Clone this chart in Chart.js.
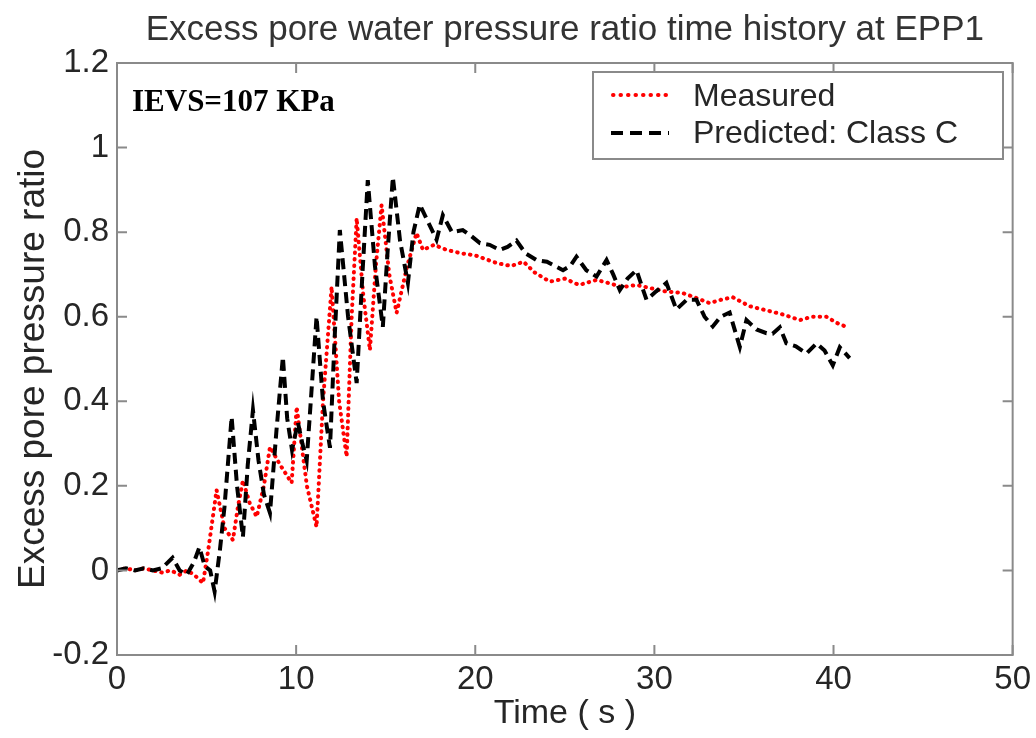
<!DOCTYPE html>
<html>
<head>
<meta charset="utf-8">
<title>EPP1 excess pore pressure ratio</title>
<script src="https://cdn.jsdelivr.net/npm/chart.js@4.4.1/dist/chart.umd.min.js"></script>
<style>
  html, body { margin: 0; padding: 0; background: #fff; }
  #wrap { width: 1036px; height: 738px; position: relative; }
</style>
</head>
<body>
<div id="wrap"><canvas id="chart"></canvas></div>
<script>
// time (s) and pore pressure ratio
const predT = [0, 0.5, 1, 1.5, 2, 2.5, 3.1, 3.5, 3.9, 4.3, 4.6, 4.9, 5.2, 5.45, 5.75, 6.0, 6.4, 6.7,
  7.03, 7.3, 7.59, 7.9, 8.2, 8.54, 8.9, 9.26, 9.5, 9.77, 10.1, 10.35, 10.59, 10.85, 11.14, 11.5,
  11.89, 12.15, 12.44, 12.9, 13.38, 13.7, 14.0, 14.4, 14.84, 15.1, 15.4, 15.8, 16.24, 16.55, 16.9,
  17.3, 17.84, 18.19, 18.7, 19.3, 19.8, 20.26, 20.8, 21.37, 21.8, 22.3, 22.8, 23.42, 24.0, 24.9,
  25.3, 25.65, 26.2, 26.77, 27.33, 27.7, 28.07, 28.5, 29.0, 29.56, 30.1, 30.67, 31.23, 31.8, 32.35,
  32.8, 33.26, 33.7, 34.2, 34.77, 35.14, 35.7, 36.26, 36.6, 37.0, 37.37, 37.9, 38.49, 39.05, 39.5,
  39.96, 40.35, 40.9];
const predV = [0.0, 0.005, 0.0, 0.005, 0.0, 0.005, 0.03, 0.0, -0.01, 0.02, 0.055, 0.01, 0.0, -0.05,
  0.05, 0.15, 0.363, 0.2, 0.079, 0.25, 0.379, 0.26, 0.18, 0.136, 0.33, 0.505, 0.36, 0.285, 0.35, 0.3,
  0.26, 0.42, 0.60, 0.4, 0.29, 0.55, 0.805, 0.6, 0.443, 0.7, 0.923, 0.72, 0.576, 0.75, 0.93, 0.78,
  0.68, 0.8, 0.865, 0.83, 0.782, 0.84, 0.8, 0.805, 0.79, 0.774, 0.77, 0.758, 0.765, 0.78, 0.75,
  0.734, 0.73, 0.71, 0.72, 0.742, 0.71, 0.695, 0.734, 0.7, 0.663, 0.69, 0.71, 0.64, 0.66, 0.68,
  0.617, 0.64, 0.64, 0.6, 0.577, 0.6, 0.61, 0.528, 0.592, 0.57, 0.561, 0.56, 0.575, 0.537, 0.53,
  0.513, 0.537, 0.52, 0.485, 0.528, 0.502];

const measT = [0, 0.5, 1, 1.5, 2, 2.5, 3, 3.5, 3.9, 4.3, 4.8, 5.1, 5.56, 6.0, 6.47, 6.75, 7.03, 7.4,
  7.8, 8.2, 8.54, 9.1, 9.75, 10.03, 10.6, 11.14, 11.5, 11.98, 12.4, 12.82, 13.1, 13.38, 13.75, 14.12,
  14.45, 14.77, 15.2, 15.61, 16.2, 16.72, 17.08, 17.7, 18.4, 19.2, 20.0, 21.19, 22.0, 22.7, 23.3,
  24.16, 25.0, 25.8, 26.77, 27.4, 28.2, 29.0, 29.74, 30.6, 31.58, 32.3, 33.09, 33.7, 34.38, 35.3,
  36.26, 37.2, 38.12, 38.8, 39.6, 40.2, 40.72];
const measV = [0, 0.005, 0, 0.005, 0.0, -0.005, 0.0, -0.01, 0.0, -0.01, -0.03, 0.05, 0.19, 0.1, 0.072,
  0.15, 0.213, 0.16, 0.127, 0.2, 0.292, 0.25, 0.207, 0.387, 0.2, 0.103, 0.4, 0.671, 0.4, 0.269, 0.6,
  0.833, 0.65, 0.521, 0.72, 0.864, 0.7, 0.609, 0.72, 0.798, 0.758, 0.77, 0.758, 0.75, 0.745, 0.727,
  0.72, 0.73, 0.705, 0.683, 0.69, 0.675, 0.687, 0.68, 0.67, 0.675, 0.668, 0.66, 0.656, 0.645, 0.632,
  0.64, 0.646, 0.625, 0.615, 0.605, 0.592, 0.6, 0.60, 0.585, 0.576];

const xTicks = [0, 10, 20, 30, 40, 50];
const yTicks = [-0.2, 0, 0.2, 0.4, 0.6, 0.8, 1, 1.2];

const FONT = '"Liberation Sans", Arial, Helvetica, sans-serif';
const AXIS = '#8a8a8a';
const TEXT = '#262626';

function toPoints(ts, vs) {
  return ts.map((t, i) => ({ x: t, y: vs[i] }));
}

// box around the axes with MATLAB style inward ticks
const frame = {
  id: 'frame',
  afterDatasetsDraw(chart) {
    const { ctx, chartArea: a, scales: { x, y } } = chart;
    ctx.save();
    ctx.strokeStyle = AXIS;
    ctx.lineWidth = 2;
    ctx.strokeRect(a.left, a.top, a.right - a.left, a.bottom - a.top);
    ctx.beginPath();
    xTicks.forEach(v => {
      const px = x.getPixelForValue(v);
      ctx.moveTo(px, a.bottom); ctx.lineTo(px, a.bottom - 10);
      ctx.moveTo(px, a.top); ctx.lineTo(px, a.top + 10);
    });
    yTicks.forEach(v => {
      const py = y.getPixelForValue(v);
      ctx.moveTo(a.left, py); ctx.lineTo(a.left + 10, py);
      ctx.moveTo(a.right, py); ctx.lineTo(a.right - 10, py);
    });
    ctx.stroke();
    ctx.restore();
  }
};

// title, y label, legend box and the IEVS note
const notes = {
  id: 'notes',
  afterDraw(chart) {
    const { ctx, chartArea: a } = chart;
    ctx.save();

    ctx.fillStyle = '#333';
    ctx.font = '35px ' + FONT;
    ctx.textAlign = 'center';
    ctx.textBaseline = 'middle';
    ctx.fillText('Excess pore water pressure ratio time history at EPP1', (a.left + a.right) / 2, 30);

    ctx.save();
    ctx.translate(34, 369);
    ctx.rotate(-Math.PI / 2);
    ctx.fillStyle = TEXT;
    ctx.font = '37px ' + FONT;
    ctx.fillText('Excess pore pressure ratio', 0, 0);
    ctx.restore();

    ctx.fillStyle = '#fff';
    ctx.strokeStyle = AXIS;
    ctx.lineWidth = 2;
    ctx.fillRect(593, 72, 410, 87);
    ctx.strokeRect(593, 72, 410, 87);

    ctx.lineCap = 'round';
    ctx.strokeStyle = '#ff0000';
    ctx.lineWidth = 4;
    ctx.setLineDash([0.5, 7]);
    ctx.beginPath(); ctx.moveTo(613, 95); ctx.lineTo(668, 95); ctx.stroke();

    ctx.lineCap = 'butt';
    ctx.strokeStyle = '#000';
    ctx.lineWidth = 4;
    ctx.setLineDash([12, 7]);
    ctx.beginPath(); ctx.moveTo(611, 133); ctx.lineTo(669, 133); ctx.stroke();
    ctx.setLineDash([]);

    ctx.fillStyle = TEXT;
    ctx.font = '32px ' + FONT;
    ctx.textBaseline = 'alphabetic';
    ctx.textAlign = 'left';
    ctx.fillText('Measured', 693, 106);
    ctx.fillText('Predicted: Class C', 693, 143);

    ctx.fillStyle = '#000';
    ctx.font = 'bold 31px "Liberation Serif", "Times New Roman", serif';
    ctx.fillText('IEVS=107 KPa', 132, 111);
    ctx.restore();
  }
};

new Chart(document.getElementById('chart'), {
  type: 'line',
  data: {
    datasets: [
      {
        label: 'Measured',
        data: toPoints(measT, measV),
        borderColor: '#ff0000',
        borderWidth: 4,
        borderDash: [0.5, 6],
        borderCapStyle: 'round',
        pointRadius: 0,
        tension: 0,
        order: 1
      },
      {
        label: 'Predicted: Class C',
        data: toPoints(predT, predV),
        borderColor: '#000000',
        borderWidth: 4,
        borderDash: [11, 6],
        pointRadius: 0,
        tension: 0,
        order: 0
      }
    ]
  },
  options: {
    responsive: true,
    maintainAspectRatio: false,
    animation: false,
    layout: { padding: { top: 63, right: 23, bottom: 0, left: 0 } },
    plugins: {
      legend: { display: false },
      tooltip: { enabled: false },
      title: { display: false }
    },
    scales: {
      x: {
        type: 'linear',
        min: 0,
        max: 50,
        afterFit: s => { s.height = 83; },
        afterBuildTicks: s => { s.ticks = xTicks.map(v => ({ value: v })); },
        grid: { drawOnChartArea: false, drawTicks: false },
        border: { display: false },
        ticks: { color: TEXT, font: { family: FONT, size: 33 }, padding: 5, maxRotation: 0 },
        title: {
          display: true,
          text: 'Time ( s )',
          color: TEXT,
          font: { family: FONT, size: 34 },
          padding: { top: 0, bottom: 4 }
        }
      },
      y: {
        min: -0.2,
        max: 1.2,
        afterFit: s => { s.width = 117; },
        afterBuildTicks: s => { s.ticks = yTicks.map(v => ({ value: v })); },
        grid: { drawOnChartArea: false, drawTicks: false },
        border: { display: false },
        ticks: {
          color: TEXT,
          font: { family: FONT, size: 33 },
          padding: 8,
          callback: v => String(+v.toFixed(1))
        },
        title: { display: false }
      }
    }
  },
  plugins: [frame, notes]
});
</script>
</body>
</html>
